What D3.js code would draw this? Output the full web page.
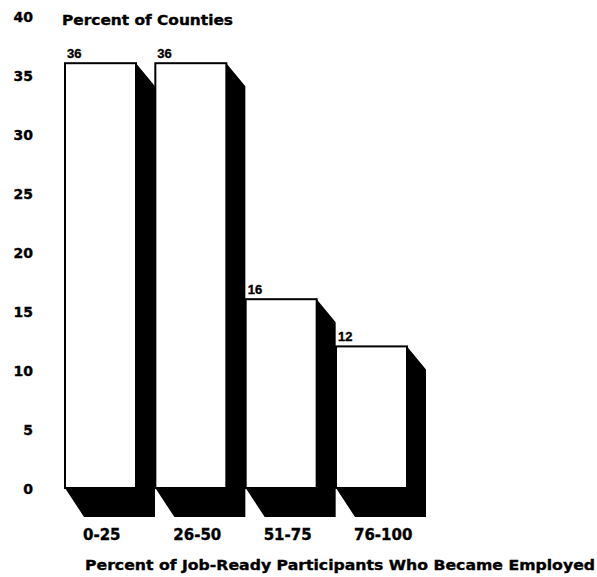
<!DOCTYPE html>
<html>
<head>
<meta charset="utf-8">
<script src="https://cdn.jsdelivr.net/npm/d3@7"></script>
<style>
  html, body { margin: 0; padding: 0; background: #fff; }
  svg { display: block; }
  text { font-family: "DejaVu Sans", "Liberation Sans", Arial, sans-serif; font-weight: bold; fill: #000; stroke: #000; stroke-width: 0.35px; }
</style>
</head>
<body>
<svg id="chart" width="597" height="577"></svg>
<script>
const categories = ["0-25", "26-50", "51-75", "76-100"];
const values = [36, 36, 16, 12];
const yTicks = [0, 5, 10, 15, 20, 25, 30, 35, 40];
const yTitle = "Percent of Counties";
const xTitle = "Percent of Job-Ready Participants Who Became Employed";

const svg = d3.select("#chart");

const y = d3.scaleLinear().domain([0, 40]).range([488, 16]);
const x = d3.scaleBand().domain(categories).range([65, 407]).paddingInner(0.214).paddingOuter(0);

const dx = 19, dyTop = 23, dyBot = 29;
const y0 = y(0);

// y tick labels
svg.append("g").selectAll("text").data(yTicks).join("text")
  .attr("x", 33)
  .attr("y", d => y(d) + 1)
  .attr("text-anchor", "end")
  .attr("dominant-baseline", "central")
  .style("font-size", "14px")
  .text(d => d);

// y title
svg.append("text")
  .attr("x", 62).attr("y", 25)
  .attr("textLength", 171).attr("lengthAdjust", "spacingAndGlyphs")
  .style("font-size", "14px")
  .text(yTitle);

const data = categories.map((c, i) => ({ c, v: values[i] }));

const bars = svg.append("g");
data.forEach(d => {
  const x0 = x(d.c), x1 = x0 + x.bandwidth(), yt = y(d.v);
  const g = bars.append("g");
  // dark side + bottom face
  g.append("path")
    .attr("d", d3.line()([
      [x1, yt], [x1 + dx, yt + dyTop], [x1 + dx, y0 + dyBot],
      [x0 + dx, y0 + dyBot], [x0, y0], [x1, y0]
    ]) + "Z")
    .attr("fill", "#000");
  // front face
  g.append("rect")
    .attr("x", x0).attr("y", yt)
    .attr("width", x.bandwidth()).attr("height", y0 - yt)
    .attr("fill", "#fff").attr("stroke", "#000").attr("stroke-width", 2);
  // value label
  g.append("text")
    .attr("x", x0 + 2).attr("y", yt - 5)
    .style("font-family", "'Liberation Sans', Arial, sans-serif")
    .style("font-size", "13px")
    .text(d.v);
});

// x category labels
svg.append("g").selectAll("text").data(categories).join("text")
  .attr("x", d => x(d) + 18)
  .attr("y", 540)
  .style("font-size", "15px")
  .text(d => d);

// x title
svg.append("text")
  .attr("x", 85).attr("y", 570)
  .attr("textLength", 510).attr("lengthAdjust", "spacingAndGlyphs")
  .style("font-size", "14px")
  .text(xTitle);
</script>
</body>
</html>
